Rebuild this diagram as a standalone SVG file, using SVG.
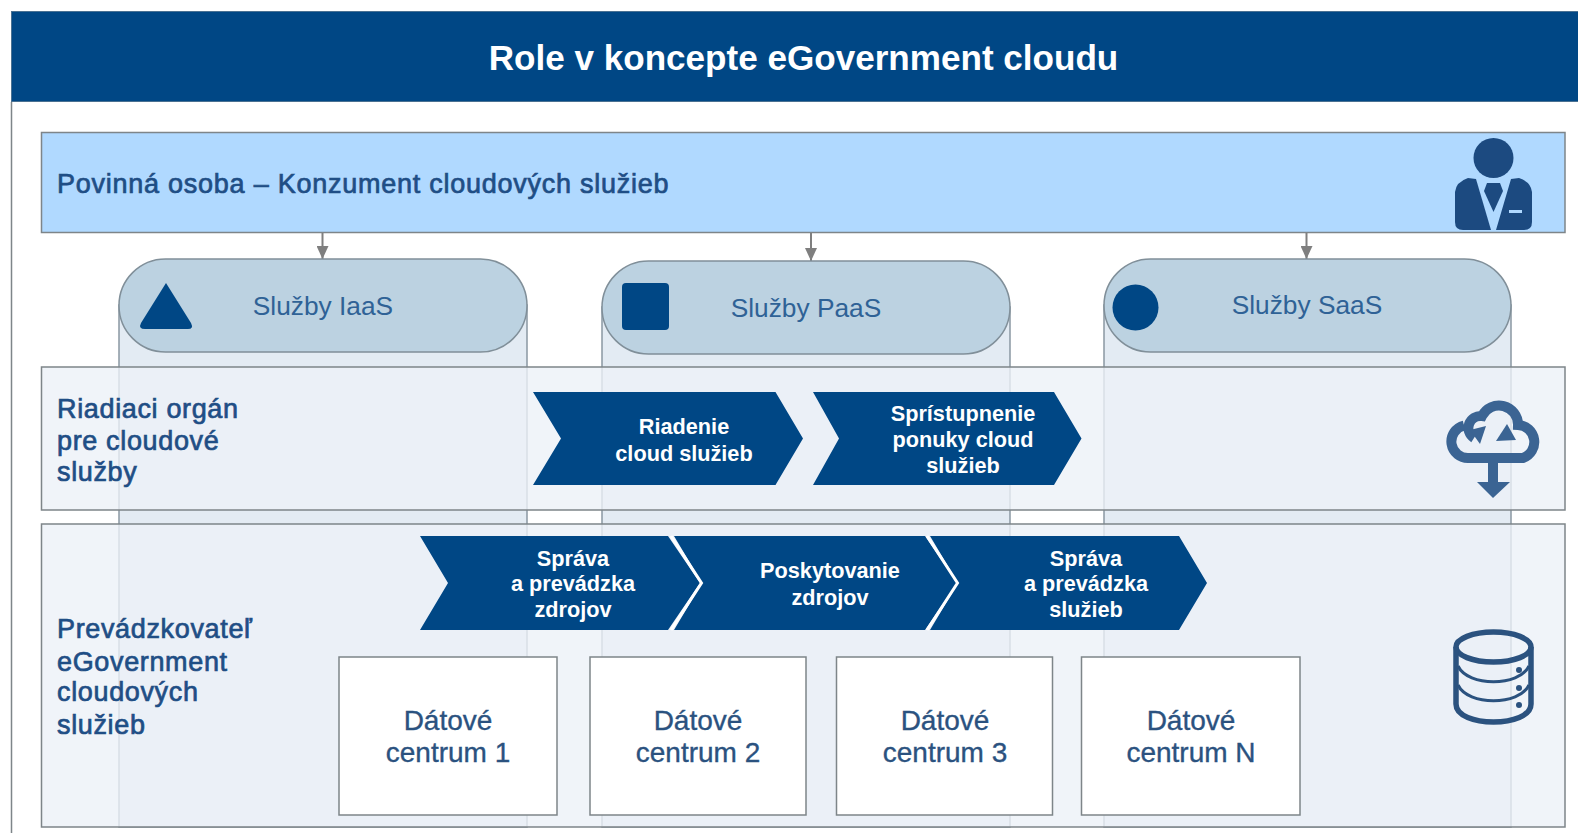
<svg xmlns="http://www.w3.org/2000/svg" width="1578" height="833" viewBox="0 0 1578 833">
<style>
text{font-family:"Liberation Sans",Arial,sans-serif}
.ln{fill:#1f4e85;font-size:27px;stroke:#1f4e85;stroke-width:.7;letter-spacing:.65px}
.svc{fill:#2f6296;font-size:26.300px;text-anchor:middle}
.dc{fill:#2b527f;font-size:28px;text-anchor:middle;stroke:#2b527f;stroke-width:.35}
.ch{fill:#fff;font-size:21.700px;font-weight:700;text-anchor:middle}
.col{fill:#e3ebf3;stroke:#8b98a2;stroke-width:1.5}
.pill{fill:#bcd2e1;stroke:#808f99;stroke-width:1.5}
.band{fill:#ecf1f7;fill-opacity:.8;stroke:#7e8589;stroke-width:1.5}
.dcb{fill:#fff;stroke:#7e8589;stroke-width:1.5}
.chev{fill:#004785}
.ic{fill:#004785}
.sep{fill:none;stroke:#fff;stroke-width:3}
.conn{stroke:#7f7f7f;stroke-width:2;fill:none;marker-end:url(#ah)}
</style>
<defs><marker id="ah" markerUnits="userSpaceOnUse" markerWidth="14" markerHeight="12" refX="13" refY="6" orient="auto"><path d="M0 0L13 6L0 12Z" fill="#7f7f7f"/></marker></defs>
<rect width="1578" height="833" fill="#fff"/>
<g id="frame">
<path d="M11.500 102V833" stroke="#7e8589" stroke-width="1.5" fill="none"/>
<rect x="11.500" y="11.500" width="1570" height="90" fill="#004785" stroke="#4a7192"/>
<text x="803.500" y="70" fill="#fff" font-size="35.100" font-weight="700" text-anchor="middle">Role v koncepte eGovernment cloudu</text>
</g>
<g id="col-iaas"><path class="col" d="M119 305V827H527V305Z"/></g>
<g id="col-paas"><path class="col" d="M602 307V827H1010V307Z"/></g>
<g id="col-saas"><path class="col" d="M1104 305V827H1511V305Z"/></g>
<g id="consumer">
<rect x="41.500" y="132.500" width="1523.500" height="100" fill="#b0d9ff" stroke="#7e8589" stroke-width="1.5"/>
<text class="ln" x="57" y="193" style="letter-spacing:.75px">Povinná osoba – Konzument cloudových služieb</text>
<g id="icon-person" fill="#1c4a80">
<circle cx="1493.500" cy="158" r="20"/>
<path d="M1476 179L1491 230H1463Q1455 230 1455 222V192Q1456 182 1468 178Z"/>
<path d="M1511 179L1496 230H1524Q1532 230 1532 222V192Q1531 182 1519 178ZM1509 210V213H1522V210Z" fill-rule="evenodd"/>
<path d="M1487 183H1500L1503 191L1493.500 212L1484 191Z"/>
</g>
</g>
<g id="connectors">
<path class="conn" d="M322.500 233V259"/>
<path class="conn" d="M811 233V261"/>
<path class="conn" d="M1306.500 233V259"/>
</g>
<g id="pill-iaas">
<rect class="pill" x="119" y="259" width="408" height="93" rx="46.500"/>
<path class="ic" d="M166 283L191 323Q194 329 188 329H145Q138 329 141 323Z"/>
<text class="svc" x="323" y="315">Služby IaaS</text>
</g>
<g id="pill-paas">
<rect class="pill" x="602" y="261" width="408" height="93" rx="46.500"/>
<rect class="ic" x="622" y="283" width="47" height="47" rx="4"/>
<text class="svc" x="806" y="317">Služby PaaS</text>
</g>
<g id="pill-saas">
<rect class="pill" x="1104" y="259" width="407" height="93" rx="46.500"/>
<circle class="ic" cx="1135.500" cy="307.500" r="23"/>
<text class="svc" x="1307" y="314">Služby SaaS</text>
</g>
<g id="controller">
<rect class="band" x="41.500" y="367" width="1523.500" height="143"/>
<text class="ln" x="57" y="418">Riadiaci orgán</text>
<text class="ln" x="57" y="450">pre cloudové</text>
<text class="ln" x="57" y="481">služby</text>
<g id="icon-cloud" fill="#3b6493">
<path d="M1474 438A12 12 0 0 1 1482 416A19 19 0 0 1 1518 425A17 17 0 0 1 1523 458H1469A16.500 16.500 0 0 1 1464 425.500" fill="none" stroke="#3b6493" stroke-width="10"/>
<path d="M1470 430L1486 426L1480 444Z"/>
<path d="M1496 441L1507 424L1516 440Z"/>
<path d="M1488 458H1498V482H1510L1493 498L1477 482H1488Z"/>
</g>
</g>
<g id="operator">
<rect class="band" x="41.500" y="524" width="1523.500" height="303"/>
<text class="ln" x="57" y="638">Prevádzkovateľ</text>
<text class="ln" x="57" y="671">eGovernment</text>
<text class="ln" x="57" y="701">cloudových</text>
<text class="ln" x="57" y="734">služieb</text>
<g id="icon-db" fill="none" stroke="#2b527f">
<ellipse cx="1493.500" cy="647" rx="37.500" ry="15" stroke-width="5.500"/>
<path d="M1456 647V704C1456 728 1531 728 1531 704V647" stroke-width="5.500"/>
<path d="M1458 666C1468 687 1519 687 1529 666M1458 685C1468 706 1519 706 1529 685" stroke-width="3"/>
<g fill="#2b527f" stroke="none"><circle cx="1519" cy="670" r="3"/><circle cx="1519" cy="688" r="3"/><circle cx="1519" cy="705" r="3"/></g>
</g>
</g>
<g id="chev-riadenie"><path class="chev" d="M533 392H775.500L803 438.500L775.500 485H533L561 438.500Z"/>
<text class="ch" x="684" y="434">Riadenie</text><text class="ch" x="684" y="460.500">cloud služieb</text></g>
<g id="chev-spristupnenie"><path class="chev" d="M813 392H1054L1081.500 438.500L1054 485H813L839 438.500Z"/>
<text class="ch" x="963" y="421">Sprístupnenie</text><text class="ch" x="963" y="447">ponuky cloud</text><text class="ch" x="963" y="473">služieb</text></g>
<g id="chev-sprava-zdrojov"><path class="chev" d="M420 536H668L700 583L668 630H420L448 583Z"/>
<text class="ch" x="573" y="566">Správa</text><text class="ch" x="573" y="591">a prevádzka</text><text class="ch" x="573" y="617">zdrojov</text></g>
<g id="chev-poskytovanie"><path class="chev" d="M674 536H925L957 583L925 630H674L702 583Z"/>
<path class="sep" d="M671 536L701.500 583L671 630"/>
<text class="ch" x="830" y="578">Poskytovanie</text><text class="ch" x="830" y="604.500">zdrojov</text></g>
<g id="chev-sprava-sluzieb"><path class="chev" d="M930 536H1179L1207 583L1179 630H930L958 583Z"/>
<path class="sep" d="M927 536L957.500 583L927 630"/>
<text class="ch" x="1086" y="566">Správa</text><text class="ch" x="1086" y="591">a prevádzka</text><text class="ch" x="1086" y="617">služieb</text></g>
<g id="dc-1"><rect class="dcb" x="339" y="657" width="218" height="158"/><text class="dc" x="448" y="730">Dátové</text><text class="dc" x="448" y="762">centrum 1</text></g>
<g id="dc-2"><rect class="dcb" x="590" y="657" width="216" height="158"/><text class="dc" x="698" y="730">Dátové</text><text class="dc" x="698" y="762">centrum 2</text></g>
<g id="dc-3"><rect class="dcb" x="836.500" y="657" width="216" height="158"/><text class="dc" x="945" y="730">Dátové</text><text class="dc" x="945" y="762">centrum 3</text></g>
<g id="dc-n"><rect class="dcb" x="1081.500" y="657" width="218.500" height="158"/><text class="dc" x="1191" y="730">Dátové</text><text class="dc" x="1191" y="762">centrum N</text></g>
</svg>
